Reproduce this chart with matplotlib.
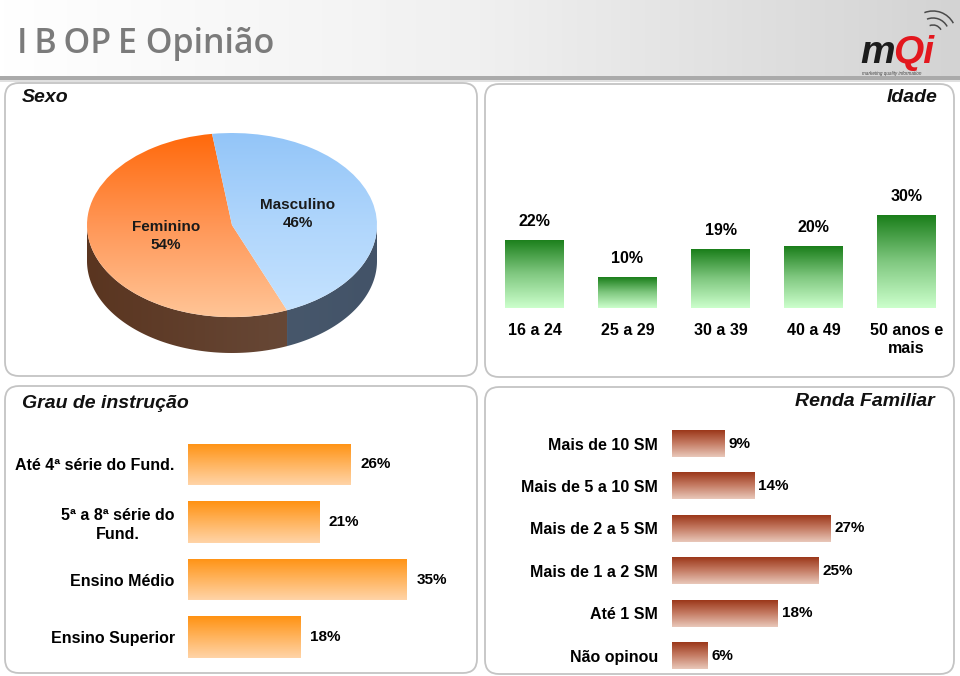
import numpy as np
import matplotlib
matplotlib.use('Agg')
import matplotlib.pyplot as plt
from matplotlib.colors import LinearSegmentedColormap
from matplotlib.patches import FancyBboxPatch, Rectangle, Polygon, Arc

plt.rcParams['font.family'] = ['Liberation Sans', 'DejaVu Sans']

# dados
sexo_labels = ['Feminino', 'Masculino']
sexo_vals = [54, 46]

idade_labels = ['16 a 24', '25 a 29', '30 a 39', '40 a 49', '50 anos e\nmais']
idade_vals = [22, 10, 19, 20, 30]

instr_labels = ['Até 4ª série do Fund.', '5ª a 8ª série do\nFund.', 'Ensino Médio', 'Ensino Superior']
instr_vals = [26, 21, 35, 18]

renda_labels = ['Mais de 10 SM', 'Mais de 5 a 10 SM', 'Mais de 2 a 5 SM',
                'Mais de 1 a 2 SM', 'Até 1 SM', 'Não opinou']
renda_vals = [9, 14, 27, 25, 18, 6]

W, H = 960, 676
fig = plt.figure(figsize=(W / 100, H / 100), dpi=100)


def px_axes(x0, y0, x1, y1):
    # axes placed in pixel coords (top-left origin)
    ax = fig.add_axes([x0 / W, 1 - y1 / H, (x1 - x0) / W, (y1 - y0) / H])
    ax.patch.set_visible(False)
    return ax


def cmap(*cols):
    return LinearSegmentedColormap.from_list('g', list(cols))


vgrad = np.linspace(0, 1, 256).reshape(-1, 1)
hgrad = np.linspace(0, 1, 256).reshape(1, -1)


def grad_fill(ax, bars, cm):
    inv = ax.yaxis_inverted()
    for b in bars:
        x0, y0 = b.get_x(), b.get_y()
        x1, y1 = x0 + b.get_width(), y0 + b.get_height()
        top, bot = (y0, y1) if inv else (y1, y0)
        im = ax.imshow(vgrad, extent=(x0, x1, bot, top), cmap=cm, aspect='auto', zorder=2)
        im.set_clip_path(b)
        b.set_facecolor('none')


# background / header
bg = px_axes(0, 0, W, H)
bg.imshow(hgrad, extent=(0, W, 76, 0), cmap=cmap('#ffffff', '#f0f0f0', '#d3d3d3'),
          aspect='auto', zorder=0)
bg.add_patch(Rectangle((0, 76), W, 3.5, color='#aaaaaa', lw=0))
bg.add_patch(Rectangle((0, 79.5), W, 2, color='#e0e0e0', lw=0))
bg.text(17, 44, 'I\u2009B\u2009OP\u2009E Opinião', fontsize=24.5, color='#7b7b7b',
        family=['Open Sans', 'DejaVu Sans'], weight='semibold', va='center', ha='left')

# logo
bg.text(860, 63, 'm', fontsize=28, weight='bold', style='italic', color='#1c1c1c', va='baseline')
bg.text(893, 63, 'Qi', fontsize=28, weight='bold', style='italic', color='#e3171e', va='baseline')
bg.text(862, 71.5, 'marketing quality information', fontsize=3.3, color='#444444',
        style='italic', va='top')
for r in (9, 16, 23):
    bg.add_patch(Arc((933, 34), 2 * r, 2 * r, theta1=248, theta2=332, color='#4a4a4a', lw=1.1))

# panels
panels = [(5, 83, 477, 376), (485, 84, 954, 377), (5, 386, 477, 673), (485, 387, 954, 674)]
for x0, y0, x1, y1 in panels:
    bg.add_patch(FancyBboxPatch((x0, y0), x1 - x0, y1 - y0,
                                boxstyle='round,pad=0,rounding_size=14',
                                fc='white', ec='#c4c4c4', lw=1.3, zorder=1))

tkw = dict(fontsize=14, weight='bold', style='italic', va='center', color='#111111')
bg.text(22, 97, 'Sexo', ha='left', **tkw)
bg.text(938, 97, 'Idade', ha='right', **tkw)
bg.text(22, 403, 'Grau de instrução', ha='left', **tkw)
bg.text(935, 402, 'Renda Familiar', ha='right', **tkw)
bg.set_xlim(0, W)
bg.set_ylim(H, 0)
bg.axis('off')

# pie (3D look)
depth = 0.39
start = 97.9
pax = px_axes(87, 133, 377, 353)
wedges, texts = pax.pie(sexo_vals, labels=[f'{l}\n{v}%' for l, v in zip(sexo_labels, sexo_vals)],
                        startangle=start, labeldistance=0.47, wedgeprops=dict(lw=0),
                        textprops=dict(fontsize=11, weight='bold', color='#1a1a1a'))
for t in texts:
    t.set_ha('center')
    t.set_multialignment('center')
    t.set_linespacing(1.35)
    t.set_zorder(6)

top_cm = [cmap('#ff680a', '#ff9656', '#ffc597'), cmap('#93c5f8', '#b0d6fc', '#c6e3ff')]
side_cm = [cmap('#5a3520', '#6d5040'), cmap('#4f6072', '#435368')]

a1 = start
for i, v in enumerate(sexo_vals):
    a2 = a1 + 360 * v / 100
    for base in (180, 540):
        lo, hi = max(a1, base), min(a2, base + 180)
        if hi > lo:
            th = np.radians(np.linspace(lo, hi, 100))
            pts = np.vstack([np.c_[np.cos(th), np.sin(th)],
                             np.c_[np.cos(th), np.sin(th) - depth][::-1]])
            poly = Polygon(pts, closed=True, fc='none', lw=0)
            pax.add_patch(poly)
            im = pax.imshow(hgrad, extent=(-1, 1, -1 - depth, 1), cmap=side_cm[i],
                            aspect='auto', zorder=1)
            im.set_clip_path(poly)
    im = pax.imshow(vgrad, extent=(-1, 1, -1, 1), cmap=top_cm[i], aspect='auto', zorder=3)
    im.set_clip_path(wedges[i])
    wedges[i].set_facecolor('none')
    a1 = a2
pax.set_aspect('auto')
pax.set_xlim(-1, 1)
pax.set_ylim(-1 - depth, 1)
pax.axis('off')

# idade
aax = px_axes(488, 184, 953, 308)
x = np.arange(len(idade_vals))
bars = aax.bar(x, idade_vals, width=0.634, lw=0)
aax.set_xlim(-0.5, len(x) - 0.5)
aax.set_ylim(0, 40)
grad_fill(aax, bars, cmap('#1a7e1a', '#80c880', '#ccffcc'))
for xi, v in zip(x, idade_vals):
    aax.annotate(f'{v}%', (xi, v), xytext=(0, 8), textcoords='offset points',
                 ha='center', va='bottom', fontsize=11.5, weight='bold')
aax.set_xticks(x, idade_labels, fontsize=11.5, weight='bold')
for t in aax.get_xticklabels():
    t.set_linespacing(1.25)
aax.set_yticks([])
aax.tick_params(length=0, pad=11)
aax.set_xlim(-0.5, len(x) - 0.5)
aax.set_ylim(0, 40)
for s in aax.spines.values():
    s.set_visible(False)

# grau de instrucao
eax = px_axes(188, 435.75, 438, 665.75)
y = np.arange(len(instr_vals))
bars = eax.barh(y, instr_vals, height=0.73, lw=0)
eax.set_xlim(0, 40)
eax.set_ylim(len(y) - 0.5, -0.5)
grad_fill(eax, bars, cmap('#ff9212', '#ffb45e', '#ffd4a8'))
for yi, v in zip(y, instr_vals):
    eax.annotate(f'{v}%', (v, yi), xytext=(7, 0), textcoords='offset points',
                 ha='left', va='center', fontsize=11, weight='bold')
eax.set_yticks(y, instr_labels, fontsize=11.5, weight='bold')
for t in eax.get_yticklabels():
    t.set_multialignment('center')
    t.set_linespacing(1.3)
eax.set_xticks([])
eax.tick_params(length=0, pad=9.5)
eax.set_xlim(0, 40)
eax.set_ylim(len(y) - 0.5, -0.5)
for s in eax.spines.values():
    s.set_visible(False)

# renda familiar
rax = px_axes(672, 422.3, 848, 676.7)
y = np.arange(len(renda_vals))
bars = rax.barh(y, renda_vals, height=0.637, lw=0)
rax.set_xlim(0, 30)
rax.set_ylim(len(y) - 0.5, -0.5)
grad_fill(rax, bars, cmap('#983214', '#c47a62', '#e9c8ba'))
for yi, v in zip(y, renda_vals):
    rax.annotate(f'{v}%', (v, yi), xytext=(3, 0), textcoords='offset points',
                 ha='left', va='center', fontsize=11, weight='bold')
rax.set_yticks(y, renda_labels, fontsize=11.5, weight='bold')
rax.set_xticks([])
rax.tick_params(length=0, pad=10)
rax.set_xlim(0, 30)
rax.set_ylim(len(y) - 0.5, -0.5)
for s in rax.spines.values():
    s.set_visible(False)

fig.savefig('out.png', dpi=100)
